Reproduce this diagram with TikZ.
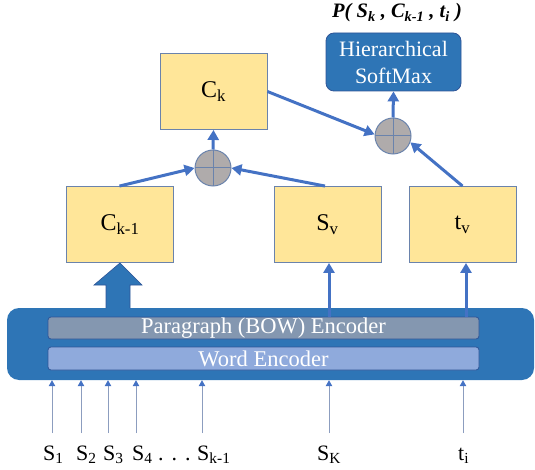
\documentclass[tikz,border=0pt]{standalone}
\usepackage{fontspec}
\setmainfont{Liberation Serif}
\usetikzlibrary{arrows.meta}
\definecolor{boxyellow}{HTML}{FFE699}
\definecolor{boxedge}{HTML}{6A83AC}
\definecolor{arrowblue}{HTML}{4472C4}
\definecolor{encblue}{HTML}{2E75B6}
\definecolor{encedge}{HTML}{2F5597}
\definecolor{paragray}{HTML}{8497B0}
\definecolor{wordblue}{HTML}{8FAADC}
\definecolor{circgray}{HTML}{AFABAB}
\definecolor{thinline}{HTML}{8C9DBF}
\tikzset{
  ybox/.style={rectangle, fill=boxyellow, draw=boxedge, line width=0.9pt, inner sep=0pt,
    minimum width=107pt, minimum height=76pt, font=\fontsize{24}{28}\selectfont},
  plusnode/.style={circle, fill=circgray, draw=boxedge, line width=1pt, inner sep=0pt, minimum size=36pt,
    path picture={\draw[boxedge, line width=1pt] (path picture bounding box.north) -- (path picture bounding box.south)
      (path picture bounding box.west) -- (path picture bounding box.east);}},
  conn/.style={draw=arrowblue, line width=3pt, -{Triangle[length=10pt,width=11pt]}},
  thinarrow/.style={draw=thinline, line width=0.9pt, -{Triangle[length=6pt,width=6.5pt,fill=arrowblue,color=arrowblue]}},
  encbar/.style={rectangle, rounded corners=3pt, draw=encedge, line width=0.8pt, inner sep=0pt,
    minimum width=431pt, text=white, font=\fontsize{22.5}{26}\selectfont},
  lbl/.style={anchor=base west, inner sep=0pt, font=\fontsize{22}{26}\selectfont},
}
\begin{document}
\begin{tikzpicture}[x=1pt,y=1pt]
\useasboundingbox (0,0) rectangle (535,-470);

% title
\node[anchor=base, inner sep=0pt, font=\fontsize{20.5}{22}\selectfont\bfseries\itshape] (title) at (397,-18)
  {P( S\textsubscript{k} , C\textsubscript{k-1} , t\textsubscript{i} )};

% softmax
\node[rectangle, rounded corners=8pt, fill=encblue, draw=encedge, line width=0.8pt, inner sep=0pt,
  minimum width=135pt, minimum height=58pt, text=white, align=center,
  font=\fontsize{22}{27}\selectfont] (hsm) at (393.5,-62) {Hierarchical\\SoftMax};

% boxes
\node[ybox] (ck) at (213.5,-91.5) {C\textsubscript{k}};
\node[ybox] (ckm1) at (120,-224.5) {C\textsubscript{k-1}};
\node[ybox] (sv) at (327.5,-224.5) {S\textsubscript{v}};
\node[ybox] (tv) at (462.5,-224.5) {t\textsubscript{v}};

% plus circles
\node[plusnode] (p1) at (213,-168) {};
\node[plusnode] (p2) at (393,-136) {};

% encoder
\node[rectangle, rounded corners=12pt, fill=encblue, inner sep=0pt,
  minimum width=527pt, minimum height=72pt] (enc) at (270.5,-344) {};
\node[encbar, fill=paragray, minimum height=22pt] (para) at (263.5,-328) {Paragraph (BOW) Encoder};
\node[encbar, fill=wordblue, minimum height=23pt] (word) at (263.5,-358.5) {Word Encoder};

% connectors upper
\draw[conn] ([xshift=-0.5pt]ckm1.north) -- (p1.west);
\draw[conn] ([xshift=-2.5pt]sv.north) -- (p1.east);
\draw[conn] (p1.north) -- (ck.south);
\draw[conn] (ck.east) -- (p2.175);
\draw[conn] (tv.north) -- (p2.-20);
\draw[conn] (p2.north) -- (hsm.south);

% encoder outputs
\draw[conn] ([xshift=1.5pt]sv.south |- para.north) -- ([xshift=1.5pt]sv.south);
\draw[conn] ([xshift=3.5pt]tv.south |- para.north) -- ([xshift=3.5pt]tv.south);
\draw[draw=encedge, fill=encblue, line width=0.6pt]
  (106,-308) -- (106,-285) -- (94,-285) -- (ckm1.south) -- (142,-285) -- (130,-285) -- (130,-308);

% bottom labels
\node[lbl] (l1) at (43,-460) {S\textsubscript{1}};
\node[lbl] (l2) at (76,-460) {S\textsubscript{2}};
\node[lbl] (l3) at (103,-460) {S\textsubscript{3}};
\node[lbl] (l4) at (132,-460) {S\textsubscript{4}};
\node[lbl] (dots) at (158,-460) {.\hspace{8pt}.\hspace{8pt}.};
\node[lbl] (lk1) at (197,-460) {S\textsubscript{k-1}};
\node[lbl] (lK) at (317,-460) {S\textsubscript{K}};
\node[lbl] (lt) at (458,-460) {t\textsubscript{i}};

\coordinate (a1) at (52,-433);
\coordinate (a2) at (81,-433);
\coordinate (a3) at (108,-433);
\coordinate (a4) at (136,-433);
\coordinate (a5) at (202,-433);
\coordinate (a6) at (329,-433);
\coordinate (a7) at (463,-433);
\foreach \a in {a1,a2,a3,a4,a5,a6,a7}
  \draw[thinarrow] (\a) -- (\a |- enc.south);
\end{tikzpicture}
\end{document}
